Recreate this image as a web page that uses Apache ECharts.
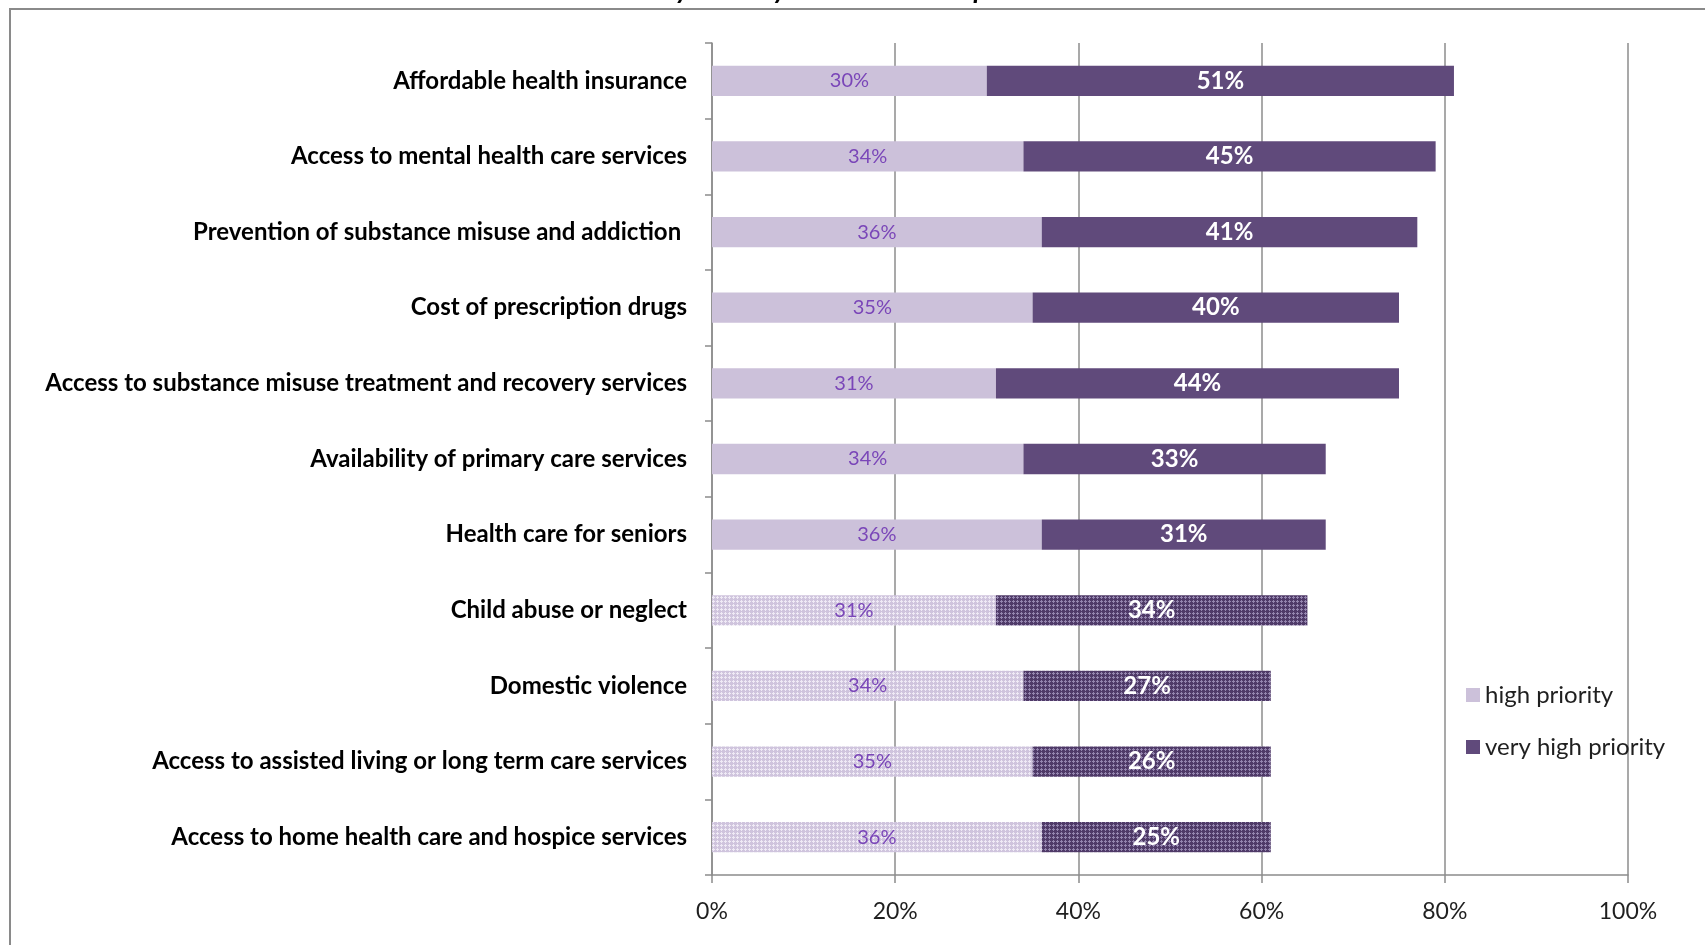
<!DOCTYPE html>
<html>
<head>
<meta charset="utf-8">
<title>Community and Key Stakeholder Responses Combined</title>
<script src="https://cdn.jsdelivr.net/npm/echarts@6/dist/echarts.min.js"></script>
<style>
  html, body { margin: 0; padding: 0; background: #ffffff; }
  #chart { width: 1705px; height: 945px; }
</style>
</head>
<body>
<div id="chart"></div>
<script>
// Issues ranked by share of respondents rating them a priority
const categories = [
  'Affordable health insurance',
  'Access to mental health care services',
  'Prevention of substance misuse and addiction ',
  'Cost of prescription drugs',
  'Access to substance misuse treatment and recovery services',
  'Availability of primary care services',
  'Health care for seniors',
  'Child abuse or neglect',
  'Domestic violence',
  'Access to assisted living or long term care services',
  'Access to home health care and hospice services'
];
const highPriority     = [30, 34, 36, 35, 31, 34, 36, 31, 34, 35, 36];
const veryHighPriority = [51, 45, 41, 40, 44, 33, 31, 34, 27, 26, 25];
// Rows from this index onward are drawn with a dotted fill
const patternFrom = 7;
const xTicks = [0, 20, 40, 60, 80, 100];

const LIGHT = '#ccc1da';
const DARK = '#604a7b';

// 4x4 tile with a small plus-shaped mark
function makePattern(bg, mark) {
  const c = document.createElement('canvas');
  c.width = 4; c.height = 4;
  const g = c.getContext('2d');
  g.fillStyle = bg;
  g.fillRect(0, 0, 4, 4);
  g.fillStyle = mark;
  g.fillRect(1, 0, 1, 3);
  g.fillRect(0, 1, 3, 1);
  return { image: c, repeat: 'repeat' };
}
const lightPattern = makePattern('#cfc4dd', '#efeaf5');
const darkPattern = makePattern('#4f3a68', '#9485ae');

function buildData(values, pattern) {
  return values.map(function (v, i) {
    return i >= patternFrom ? { value: v, itemStyle: { color: pattern } } : v;
  });
}

const chart = echarts.init(document.getElementById('chart'), null, { renderer: 'canvas' });

chart.setOption({
  animation: false,
  backgroundColor: '#ffffff',
  title: {
    text: 'Community and Key Stakeholder Responses Combined',
    left: 860,
    textAlign: 'center',
    top: -28,
    textStyle: { fontFamily: 'Lato', fontSize: 27, fontWeight: 'bold', fontStyle: 'italic', color: '#000000' }
  },
  graphic: [{
    type: 'rect',
    shape: { x: 10, y: 9, width: 1760, height: 1000 },
    style: { fill: null, stroke: '#8a8a8a', lineWidth: 2 },
    silent: true,
    z: 0
  }],
  grid: { left: 712, right: 77, top: 43, bottom: 70, containLabel: false },
  legend: {
    orient: 'vertical',
    left: 1461,
    top: 678,
    itemWidth: 14,
    itemHeight: 14,
    itemGap: 28,
    icon: 'rect',
    textStyle: { fontFamily: 'Lato', fontSize: 24, color: '#1f1f1f' },
    data: ['high priority', 'very high priority']
  },
  xAxis: {
    type: 'value',
    min: 0,
    max: 100,
    interval: 20,
    axisLine: { show: true, lineStyle: { color: '#8c8c8c', width: 1.5 } },
    axisTick: { show: true, length: 8, lineStyle: { color: '#8c8c8c', width: 1.5 } },
    splitLine: { show: true, lineStyle: { color: '#8c8c8c', width: 1.5 } },
    axisLabel: {
      margin: 25,
      fontFamily: 'Lato',
      fontSize: 23,
      color: '#1f1f1f',
      formatter: function (v) { return xTicks.indexOf(v) >= 0 ? v + '%' : ''; }
    }
  },
  yAxis: {
    type: 'category',
    inverse: true,
    data: categories,
    axisLine: { show: true, lineStyle: { color: '#8c8c8c', width: 1.5 } },
    axisTick: { show: true, length: 7, alignWithLabel: false, lineStyle: { color: '#8c8c8c', width: 1.5 } },
    axisLabel: {
      margin: 25,
      fontFamily: 'Lato',
      fontSize: 24,
      fontWeight: 'bold',
      color: '#000000'
    }
  },
  series: [
    {
      name: 'high priority',
      type: 'bar',
      stack: 'total',
      barWidth: '40%',
      itemStyle: { color: LIGHT },
      label: {
        show: true,
        position: 'inside',
        formatter: '{c}%',
        fontFamily: 'Lato',
        fontSize: 20,
        color: '#7a46b8'
      },
      data: buildData(highPriority, lightPattern)
    },
    {
      name: 'very high priority',
      type: 'bar',
      stack: 'total',
      barWidth: '40%',
      itemStyle: { color: DARK },
      label: {
        show: true,
        position: 'inside',
        formatter: '{c}%',
        fontFamily: 'Lato',
        fontSize: 24,
        fontWeight: 'bold',
        color: '#ffffff'
      },
      data: buildData(veryHighPriority, darkPattern)
    }
  ]
});
</script>
</body>
</html>
